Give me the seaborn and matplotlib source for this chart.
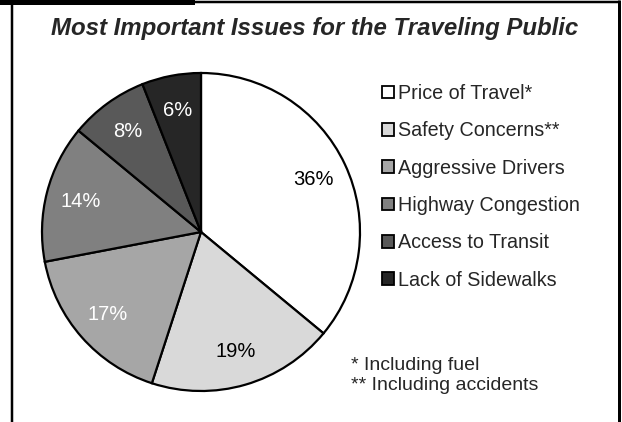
import matplotlib
matplotlib.use("Agg")
import matplotlib.pyplot as plt
import seaborn as sns
from matplotlib.lines import Line2D
from matplotlib.patches import Rectangle

categories = ["Price of Travel*", "Safety Concerns**", "Aggressive Drivers",
              "Highway Congestion", "Access to Transit", "Lack of Sidewalks"]
values = [36, 19, 17, 14, 8, 6]
colors_hex = ["#ffffff", "#d9d9d9", "#a6a6a6", "#808080", "#595959", "#262626"]
label_colors = ["black", "black", "white", "white", "white", "white"]
title = "Most Important Issues for the Traveling Public"
footnotes = ["* Including fuel", "** Including accidents"]

sns.set_theme(style="white")
plt.rcParams['font.family'] = ['Liberation Sans', 'DejaVu Sans']

W, H = 622, 422
fig = plt.figure(figsize=(W / 100, H / 100), dpi=100)
fig.patch.set_facecolor("white")

palette = sns.color_palette(colors_hex)

# pie axes: center (201, 232) px, radius 159 px
R = 159
cx, cy = 201, 232
half = R * 1.1
ax = fig.add_axes([(cx - half) / W, (H - cy - half) / H, 2 * half / W, 2 * half / H])
wedges, texts, autotexts = ax.pie(
    values, colors=palette, startangle=90, counterclock=False,
    autopct=lambda p: f"{p:.0f}%", pctdistance=0.78,
    wedgeprops=dict(edgecolor="black", linewidth=1.6),
    textprops=dict(fontsize=14.5))
for t, c in zip(autotexts, label_colors):
    t.set_color(c)
ax.set_xlim(-1.1, 1.1)
ax.set_ylim(-1.1, 1.1)
ax.set_aspect("equal")
ax.axis("off")

# title
fig.text(315 / W, 1 - 29 / H, title, ha="center", va="center",
         fontsize=17.3, fontweight="bold", fontstyle="italic")

# legend
leg_handles = [Rectangle((0, 0), 1, 1, facecolor=c, edgecolor="black", linewidth=1.3)
               for c in palette]
leg = fig.legend(leg_handles, categories, loc="upper left",
                 bbox_to_anchor=(382 / W, 1 - 84 / H), frameon=False,
                 fontsize=14.2, handlelength=0.6, handleheight=0.6,
                 handletextpad=0.2, labelspacing=0.93, borderpad=0, borderaxespad=0)

# footnotes
fig.text(351 / W, 1 - 366 / H, footnotes[0], ha="left", va="center", fontsize=14)
fig.text(351 / W, 1 - 386 / H, footnotes[1], ha="left", va="center", fontsize=14)

# frame
def px_line(x0, y0, x1, y1, lw):
    fig.add_artist(Line2D([x0 / W, x1 / W], [1 - y0 / H, 1 - y1 / H],
                          color="black", linewidth=lw * 0.72,
                          transform=fig.transFigure, solid_capstyle="butt"))

px_line(12, 0, 12, H, 2.5)
px_line(618.5, 0, 618.5, H, 3)
px_line(12, 1.5, 620, 1.5, 2.5)
fig.add_artist(Rectangle((0, 1 - 4.5 / H), 195 / W, 4.5 / H, facecolor="black",
                         edgecolor="none", transform=fig.transFigure))

fig.savefig("out.png", dpi=100, facecolor="white")
